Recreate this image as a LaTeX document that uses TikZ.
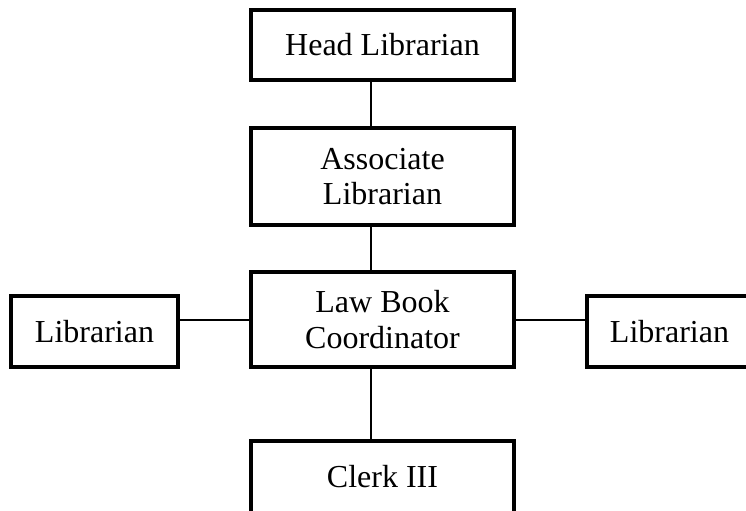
\documentclass[tikz,border=0pt]{standalone}
\usepackage{fontspec}
\setmainfont{Liberation Serif}
\usepackage{tikz}

\begin{document}
\begin{tikzpicture}[x=0.5pt,y=-0.5pt]
	\tikzstyle{every node}+=[inner sep=0pt]
	\tikzstyle{post}=[draw, line width=2pt, align=center, minimum width=131.5pt,
		font=\fontsize{16pt}{17.7pt}\selectfont]
	\tikzstyle{link}=[line width=1pt]
	\useasboundingbox (0,0) rectangle (746,510);
	% posts in the chain
	\node [post, minimum height=35pt] (head) at (382.5,45) {Head Librarian};
	\node [post, minimum height=48.5pt] (assoc) at (382.5,176.5) {Associate\\Librarian};
	\node [post, minimum height=47.5pt] (coord) at (382.5,319.5) {Law Book\\Coordinator};
	\node [post, minimum height=36pt] (clerk) at (382.5,477) {Clerk III};
	% side posts
	\node [post, minimum width=83.5pt, minimum height=35.5pt] (libl) at (94.5,331.5) {Librarian};
	\node [post, minimum width=82.5pt, minimum height=35.5pt] (libr) at (669.5,331.5) {Librarian};
	\coordinate (spine) at (371,0);
	% connectors
	\draw [link] (head.south -| spine) -- (assoc.north -| spine);
	\draw [link] (assoc.south -| spine) -- (coord.north -| spine);
	\draw [link] (coord.south -| spine) -- (clerk.north -| spine);
	\draw [link] (coord.west) -- (coord.west -| libl.east);
	\draw [link] (coord.east) -- (coord.east -| libr.west);
\end{tikzpicture}
\end{document}
